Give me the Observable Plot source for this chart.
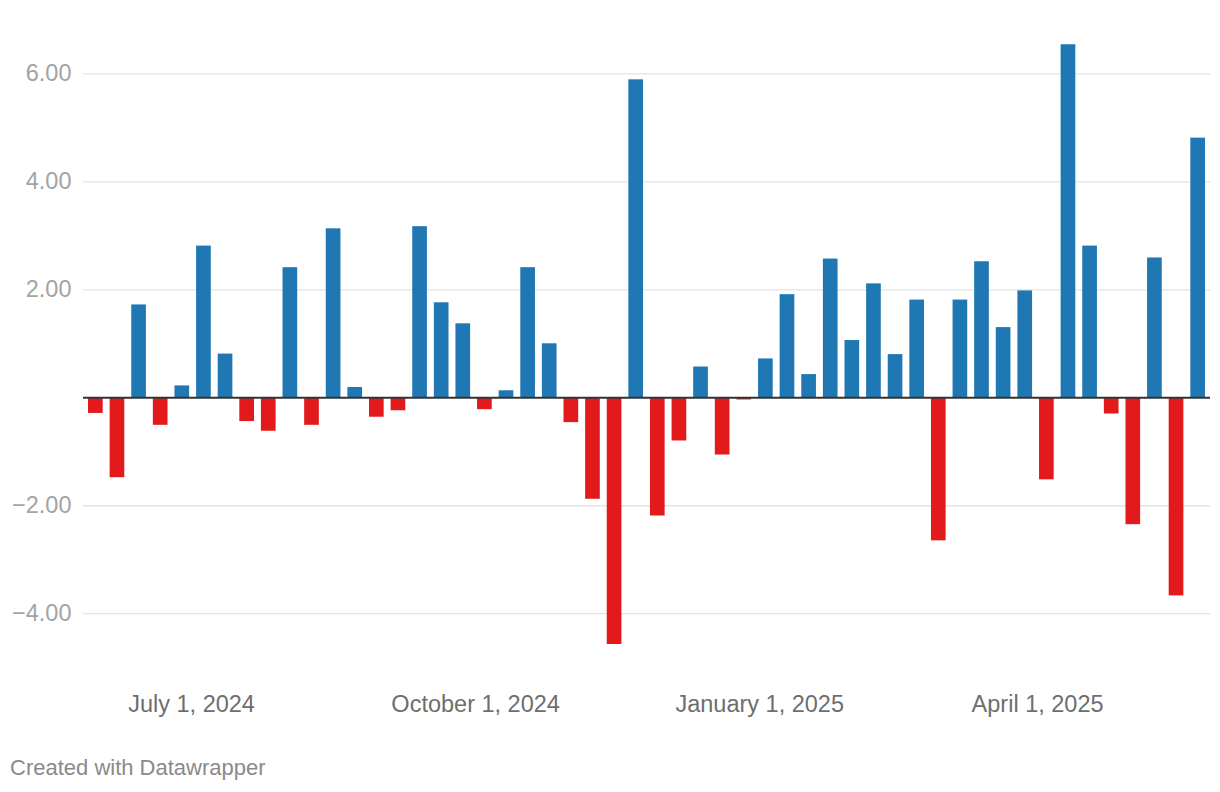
<!DOCTYPE html>
<html>
<head>
<meta charset="utf-8">
<script src="https://cdn.jsdelivr.net/npm/d3@7"></script>
<script src="https://cdn.jsdelivr.net/npm/@observablehq/plot@0.6"></script>
<style>
  html, body { margin: 0; padding: 0; background: #fff; }
  body { width: 1220px; height: 792px; position: relative; overflow: hidden;
         font-family: "Liberation Sans", Arial, Helvetica, sans-serif; }
  #chart { position: absolute; left: 0; top: 0; }
  #caption { position: absolute; left: 10px; top: 755px; line-height: 26px;
             font-size: 22px; color: #8a8a8a; }
</style>
</head>
<body>
<div id="chart"></div>
<div id="caption">Created with Datawrapper</div>
<script>
const dates = [
  "2024-05-31","2024-06-07","2024-06-14","2024-06-21","2024-06-28",
  "2024-07-05","2024-07-12","2024-07-19","2024-07-26",
  "2024-08-02","2024-08-09","2024-08-16","2024-08-23","2024-08-30",
  "2024-09-06","2024-09-13","2024-09-20","2024-09-27",
  "2024-10-04","2024-10-11","2024-10-18","2024-10-25",
  "2024-11-01","2024-11-08","2024-11-15","2024-11-22","2024-11-29",
  "2024-12-06","2024-12-13","2024-12-20","2024-12-27",
  "2025-01-03","2025-01-10","2025-01-17","2025-01-24","2025-01-31",
  "2025-02-07","2025-02-14","2025-02-21","2025-02-28",
  "2025-03-07","2025-03-14","2025-03-21","2025-03-28",
  "2025-04-04","2025-04-11","2025-04-18","2025-04-25",
  "2025-05-02","2025-05-09","2025-05-16","2025-05-23"
];
const values = [
  -0.29, -1.48, 1.72, -0.51, 0.22,
  2.81, 0.81, -0.44, -0.62,
  2.41, -0.51, 3.13, 0.19, -0.36,
  -0.24, 3.17, 1.76, 1.37,
  -0.22, 0.13, 2.41, 1.00,
  -0.46, -1.88, -4.57, 5.89, -2.19,
  -0.80, 0.57, -1.06, -0.04,
  0.72, 1.91, 0.43, 2.57, 1.06,
  2.11, 0.80, 1.81, -2.65,
  1.81, 2.52, 1.30, 1.98,
  -1.52, 6.54, 2.81, -0.30,
  -2.35, 2.59, -3.67, 4.81
];
const xTicks = ["2024-07-01", "2024-10-01", "2025-01-01", "2025-04-01"];
const yTicks = [-4, -2, 2, 4, 6];
const xDomain = ["2024-05-27", "2025-05-27"];
const yDomain = [-5.2, 6.6];
const colors = { up: "#1f77b4", down: "#e31a1c" };

const parse = d3.utcParse("%Y-%m-%d");
const data = dates.map((d, i) => ({ date: parse(d), value: values[i] }));

const fontFamily = '"Liberation Sans", Arial, Helvetica, sans-serif';

const chart = Plot.plot({
  width: 1220,
  height: 728,
  marginTop: 41,
  marginBottom: 50,
  marginLeft: 83,
  marginRight: 10,
  style: { fontFamily, background: "#fff", overflow: "visible" },
  x: { type: "utc", domain: xDomain.map(parse) },
  y: { domain: yDomain },
  marks: [
    Plot.gridY(yTicks, { stroke: "#e3e3e3", strokeOpacity: 1, strokeWidth: 1.3 }),
    Plot.rectY(data, {
      x1: d => d3.utcHour.offset(d.date, -57),
      x2: d => d3.utcHour.offset(d.date, 57),
      y1: 0,
      y2: "value",
      fill: d => d.value >= 0 ? colors.up : colors.down
    }),
    Plot.ruleY([0], { stroke: "#333", strokeWidth: 2 }),
    Plot.axisY(yTicks, {
      anchor: "left", tickSize: 0, tickPadding: 12,
      tickFormat: d3.format(".2f"),
      fontSize: 23.5, fill: "#a3a3a3", label: null
    }),
    Plot.axisX(xTicks.map(parse), {
      anchor: "bottom", tickSize: 0, tickPadding: 17,
      tickFormat: d3.utcFormat("%B %-d, %Y"),
      fontSize: 23.5, fill: "#6e6e6e", label: null
    })
  ]
});
document.getElementById("chart").appendChild(chart);
</script>
</body>
</html>
